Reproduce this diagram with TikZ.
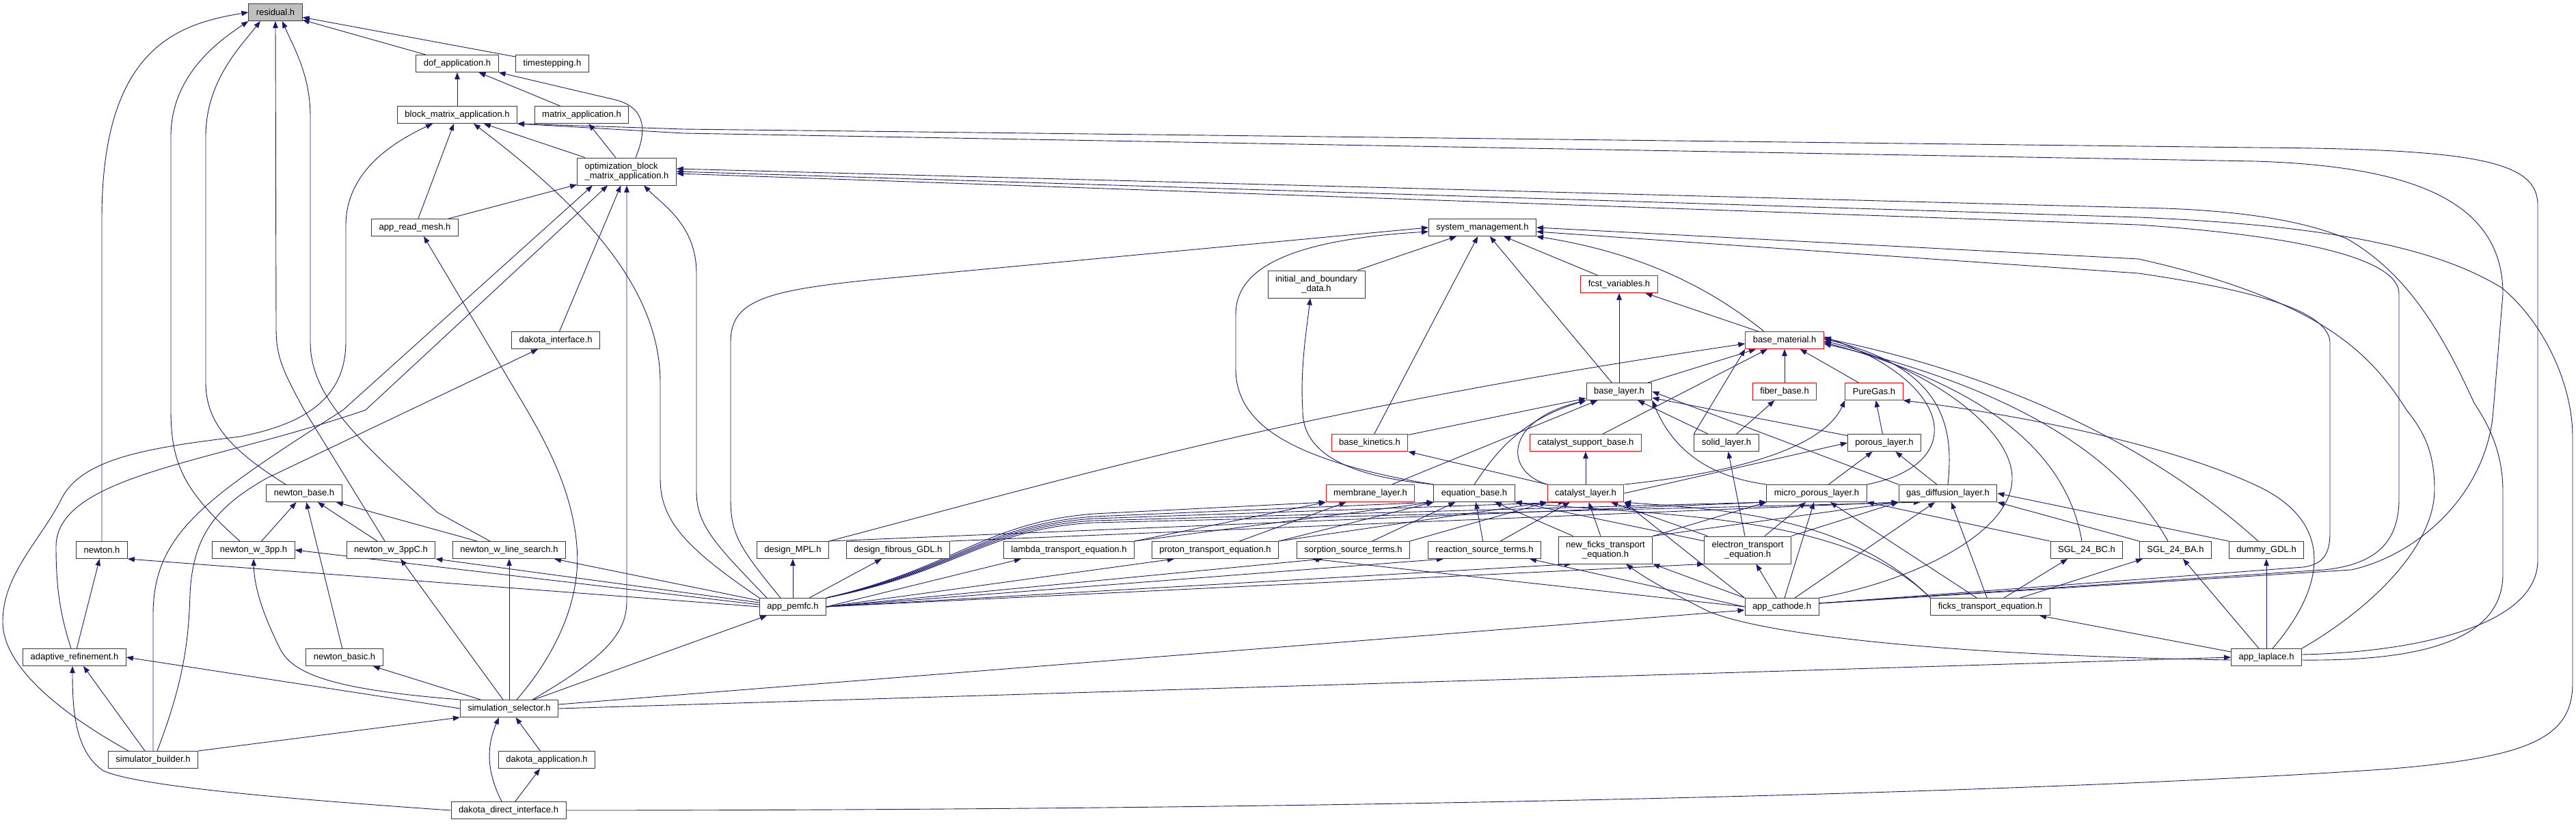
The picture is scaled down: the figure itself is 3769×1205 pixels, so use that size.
\documentclass[tikz,border=0pt]{standalone}
\usepackage{fontspec}
\setmainfont{Liberation Sans}
\usetikzlibrary{arrows.meta}
\definecolor{edgeblue}{HTML}{191970}
\definecolor{boxgray}{HTML}{3A3A3A}
\definecolor{curgray}{HTML}{BFBFBF}
\pgfdeclarelayer{bg}
\pgfsetlayers{bg,main}
\tikzset{
  file/.style={draw=boxgray, fill=white, line width=1pt, inner xsep=11pt, inner ysep=0pt,
    minimum height=25pt, font=\fontsize{13}{14}\selectfont},
  redfile/.style={file, draw=red},
  curfile/.style={file, fill=curgray},
  twoline/.style={minimum height=40pt, align=center},
  inc/.style={draw=edgeblue, line width=0.9pt, -{Triangle[length=10pt,width=7.5pt]}},
}

\begin{document}
\begin{tikzpicture}[x=1pt,y=-1pt]
    \useasboundingbox (0,0) rectangle (3769,1205);

    % files, row by row
    \node[curfile] (residual) at (403,18) {residual.h};
    \node[file] (dofapp) at (669,93) {dof\_application.h};
    \node[file] (timestep) at (808,93) {timestepping.h};
    \node[file] (blockmat) at (669,168) {block\_matrix\_application.h};
    \node[file] (matrixapp) at (851,168) {matrix\_application.h};
    \node[file, twoline, align=left] (optblock) at (917,251) {optimization\_block\\\_matrix\_application.h};
    \node[file] (appreadmesh) at (607,333) {app\_read\_mesh.h};
    \node[file] (sysmgmt) at (2169,333) {system\_management.h};
    \node[file, twoline] (initbd) at (1926,416) {initial\_and\_boundary\\\_data.h};
    \node[redfile] (fcstvar) at (2369,416) {fcst\_variables.h};
    \node[file] (dakotaint) at (813,498) {dakota\_interface.h};
    \node[redfile] (basemat) at (2611,498) {base\_material.h};
    \node[file] (baselayer) at (2369,573) {base\_layer.h};
    \node[redfile] (fiberbase) at (2611,573) {fiber\_base.h};
    \node[redfile] (puregas) at (2742,573) {PureGas.h};
    \node[redfile] (basekin) at (2004,648) {base\_kinetics.h};
    \node[redfile] (catsupp) at (2320,648) {catalyst\_support\_base.h};
    \node[file] (solidlayer) at (2526,648) {solid\_layer.h};
    \node[file] (porouslayer) at (2757,648) {porous\_layer.h};
    \node[file] (newtonbase) at (445,722) {newton\_base.h};
    \node[redfile] (membrane) at (2005,722) {membrane\_layer.h};
    \node[file] (eqbase) at (2157,722) {equation\_base.h};
    \node[redfile] (catlayer) at (2320,722) {catalyst\_layer.h};
    \node[file] (microporous) at (2658,722) {micro\_porous\_layer.h};
    \node[file] (gdl) at (2850,722) {gas\_diffusion\_layer.h};
    \node[file] (newton) at (149,805) {newton.h};
    \node[file] (nw3pp) at (371,805) {newton\_w\_3pp.h};
    \node[file] (nw3ppC) at (572,805) {newton\_w\_3ppC.h};
    \node[file] (nwls) at (745,805) {newton\_w\_line\_search.h};
    \node[file] (designmpl) at (1160,805) {design\_MPL.h};
    \node[file] (designgdl) at (1314,805) {design\_fibrous\_GDL.h};
    \node[file] (lambda) at (1564,805) {lambda\_transport\_equation.h};
    \node[file] (proton) at (1778,805) {proton\_transport\_equation.h};
    \node[file] (sorption) at (1980,805) {sorption\_source\_terms.h};
    \node[file] (reaction) at (2172,805) {reaction\_source\_terms.h};
    \node[file, twoline] (newficks) at (2349,805) {new\_ficks\_transport\\\_equation.h};
    \node[file, twoline] (electron) at (2557,805) {electron\_transport\\\_equation.h};
    \node[file] (sgl24bc) at (3053,805) {SGL\_24\_BC.h};
    \node[file] (sgl24ba) at (3183,805) {SGL\_24\_BA.h};
    \node[file] (dummy) at (3316,805) {dummy\_GDL.h};
    \node[file] (apppemfc) at (1160,888) {app\_pemfc.h};
    \node[file] (appcathode) at (2607,888) {app\_cathode.h};
    \node[file] (ficks) at (2912,888) {ficks\_transport\_equation.h};
    \node[file] (adaptive) at (109,962) {adaptive\_refinement.h};
    \node[file] (newtonbasic) at (504,962) {newton\_basic.h};
    \node[file] (applaplace) at (3316,962) {app\_laplace.h};
    \node[file] (simsel) at (745,1037) {simulation\_selector.h};
    \node[file] (dakotaapp) at (800,1112) {dakota\_application.h};
    \node[file] (simbuilder) at (224,1112) {simulator\_builder.h};
    \node[file] (dakotadirect) at (744,1186) {dakota\_direct\_interface.h};

    \begin{pgfonlayer}{bg}
    % residual.h
    \draw[inc] (dofapp) -- (residual);
    \draw[inc] (timestep) -- (residual);
    \draw[inc] (newton.north) -- (149,320) .. controls (149,70) and (260,35) .. (residual.west);
    \draw[inc] ([xshift=-20pt]nw3pp.north) .. controls (270,720) and (250,680) .. (250,600) -- (250,200) .. controls (250,110) and (320,60) .. (residual.south west);
    \draw[inc] ([xshift=-27pt]newtonbase.north) .. controls (340,660) and (301,620) .. (301,560) -- (301,200) .. controls (301,120) and (350,70) .. ([xshift=-22pt]residual.south);
    \draw[inc] ([xshift=-9pt]nw3ppC.north) -- (445,600) .. controls (412,540) and (404,520) .. (404,480) -- (residual.south);
    \draw[inc] ([xshift=-28pt]nwls.north) -- (640,750) .. controls (520,640) and (454,580) .. (454,500) -- (454,170) .. controls (454,110) and (430,70) .. ([xshift=10pt]residual.south);

    % application headers
    \draw[inc] (blockmat) -- (dofapp);
    \draw[inc] (matrixapp) -- (dofapp);
    \draw[inc] ([xshift=13pt]optblock.north) .. controls (945,195) and (948,158) .. (900,146) -- (dofapp.south east);
    \draw[inc] (optblock) -- (blockmat);
    \draw[inc] (optblock) -- (matrixapp);
    \draw[inc] (appreadmesh) -- (blockmat);
    \draw[inc] (appreadmesh) -- (optblock);
    \draw[inc] ([xshift=-36pt]simbuilder.north) .. controls (100,1050) and (4,980) .. (4,910) .. controls (4,840) and (60,790) .. (90,730) .. controls (120,670) and (220,655) .. (351,639) .. controls (450,620) and (506,580) .. (506,500) -- (506,330) .. controls (506,260) and (560,215) .. ([xshift=-36pt]blockmat.south);
    \draw[inc] (simbuilder.north) -- (224,900) .. controls (224,780) and (300,730) .. (502,600) -- ([xshift=-50pt]optblock.south);
    \draw[inc] ([xshift=-5pt]adaptive.north) .. controls (88,900) and (82,860) .. (82,800) .. controls (82,720) and (220,690) .. (367,650) .. controls (450,628) and (500,612) .. (535,600) -- ([xshift=-28pt]optblock.south);
    \draw[inc] ([xshift=6pt]simbuilder.north) .. controls (268,1000) and (276,940) .. (278,870) .. controls (282,780) and (320,740) .. (390,700) -- ([xshift=-26pt]dakotaint.south);
    \draw[inc] (dakotaint) -- (optblock);
    \draw[inc] ([xshift=34pt]simsel.north) .. controls (880,965) and (917,930) .. (917,880) -- (optblock.south);
    \draw[inc] (apppemfc.north west) .. controls (1000,800) and (966,760) .. (966,700) -- (966,560) .. controls (966,420) and (850,300) .. ([xshift=24pt]blockmat.south);
    \draw[inc] ([xshift=-38pt]apppemfc.north) .. controls (1050,800) and (1019,770) .. (1019,720) -- (1019,400) .. controls (1019,330) and (970,300) .. ([xshift=25pt]optblock.south);
    \draw[inc] ([xshift=-18pt]apppemfc.north) .. controls (1080,800) and (1069,780) .. (1069,730) -- (1069,500) .. controls (1069,440) and (1120,425) .. (1280,409) -- (sysmgmt.west);
    \draw[inc] ([xshift=11pt]simsel.north) .. controls (820,950) and (850,870) .. (844,800) .. controls (838,720) and (800,650) .. (771,600) -- ([xshift=13pt]appreadmesh.south);

    % system_management.h
    \draw[inc] (initbd) -- (sysmgmt);
    \draw[inc] (basekin) -- (sysmgmt);
    \draw[inc] (baselayer) -- (sysmgmt);
    \draw[inc] (fcstvar) -- (sysmgmt);
    \draw[inc] ([xshift=-30pt]basemat.north) .. controls (2500,420) and (2400,370) .. (sysmgmt.south east);
    \draw[inc] (eqbase.north west) .. controls (2040,700) and (1980,686) .. (1936,670) .. controls (1870,646) and (1808,610) .. (1808,540) -- (1808,460) .. controls (1808,400) and (1870,352) .. ([yshift=-6pt]sysmgmt.west);
    \draw[inc] (eqbase.north west) .. controls (2000,700) and (1905,675) .. (1906,600) .. controls (1902,540) and (1912,480) .. ([xshift=-9pt]initbd.south);

    % long ways round on the right
    \draw[inc] ([yshift=4pt]applaplace.east) .. controls (3520,955) and (3713,920) .. (3713,820) -- (3713,300) .. controls (3713,235) and (3620,218) .. (3300,216) -- (1000,189) -- (blockmat.south east);
    \draw[inc] ([yshift=5pt]appcathode.east) -- (3440,834) .. controls (3540,812) and (3640,720) .. (3648,600) -- (3662,430) .. controls (3662,290) and (3520,243) .. (3300,236) -- (1000,195) -- (blockmat.south east);
    \draw[inc] ([yshift=-4pt]applaplace.east) .. controls (3560,968) and (3662,930) .. (3662,840) -- (3662,720) .. controls (3662,660) and (3640,620) .. (3620,590) .. controls (3570,480) and (3520,400) .. (3435,350) .. controls (3360,318) and (3250,306) .. (3129,304) -- ([yshift=4pt]optblock.east);
    \draw[inc] (dakotadirect.east) .. controls (2000,1186) and (3000,1160) .. (3500,1125) .. controls (3700,1108) and (3764,1080) .. (3764,1000) -- (3764,640) .. controls (3764,560) and (3720,470) .. (3660,421) .. controls (3560,360) and (3400,330) .. (3129,318) -- (optblock.east);
    \draw[inc] ([yshift=5pt]appcathode.east) -- (3400,834) .. controls (3480,826) and (3510,790) .. (3510,730) -- (3510,430) .. controls (3510,385) and (3400,348) .. (3129,329) -- ([yshift=-3pt]optblock.east);
    \draw[inc] (applaplace.north east) .. controls (3470,890) and (3562,800) .. (3562,716) .. controls (3562,660) and (3545,630) .. (3521,600) .. controls (3470,520) and (3400,440) .. (3129,379) -- (sysmgmt.east);
    \draw[inc] ([yshift=5pt]appcathode.east) -- (3370,830) .. controls (3398,826) and (3409,812) .. (3409,780) -- (3409,500) .. controls (3405,455) and (3300,425) .. (3129,400) -- ([yshift=-6pt]sysmgmt.east);

    % materials and layers
    \draw[inc] (baselayer) -- (fcstvar);
    \draw[inc] (basemat) -- (fcstvar);
    \draw[inc] (baselayer) -- (basemat);
    \draw[inc] (fiberbase) -- (basemat);
    \draw[inc] (puregas) -- (basemat);
    \draw[inc] (catsupp) -- (basemat);
    \draw[inc] (solidlayer.north west) -- (basemat.south west);
    \draw[inc] (designmpl.north east) .. controls (1600,690) and (1900,600) .. ([yshift=-5pt]basemat.west);
    \draw[inc] (microporous.north east) .. controls (2880,680) and (2860,560) .. ([yshift=5pt]basemat.east);
    \draw[inc] (gdl.north) .. controls (2858,630) and (2850,540) .. ([yshift=2pt]basemat.east);
    \draw[inc] (appcathode.north east) .. controls (2800,850) and (2944,780) .. (2944,700) .. controls (2944,620) and (2800,530) .. ([yshift=-1pt]basemat.east);
    \draw[inc] ([xshift=-7pt]sgl24bc.north) .. controls (3030,700) and (2960,580) .. ([yshift=-3pt]basemat.east);
    \draw[inc] ([xshift=-11pt]sgl24ba.north) .. controls (3120,700) and (3000,580) .. ([yshift=-5pt]basemat.east);
    \draw[inc] ([xshift=-12pt]dummy.north) .. controls (3180,680) and (2980,560) .. ([yshift=3pt]basemat.east);
    \draw[inc] (solidlayer) -- (fiberbase);
    \draw[inc] (solidlayer) -- (baselayer);
    \draw[inc] (porouslayer) -- (baselayer);
    \draw[inc] (porouslayer) -- (puregas);
    \draw[inc] (microporous) -- (porouslayer);
    \draw[inc] (gdl) -- (porouslayer);
    \draw[inc] (microporous.north west) .. controls (2480,695) and (2440,640) .. (baselayer.south east);
    \draw[inc] (gdl.north west) -- (baselayer.east);
    \draw[inc] (catlayer) -- (catsupp);
    \draw[inc] (catlayer.north west) -- (basekin.south east);
    \draw[inc] (catlayer.north west) .. controls (2200,690) and (2200,615) .. (baselayer.south west);
    \draw[inc] (catlayer.north east) .. controls (2560,690) and (2670,650) .. (puregas.south west);
    \draw[inc] (catlayer.east) -- (porouslayer.west);
    \draw[inc] (membrane) -- (baselayer);
    \draw[inc] (basekin) -- (baselayer);
    \draw[inc] (eqbase.north) .. controls (2190,660) and (2225,615) .. (baselayer.south west);

    % equations
    \draw[inc] (lambda.north east) -- (membrane.south west);
    \draw[inc] (lambda.north east) -- (eqbase.south west);
    \draw[inc] (proton) -- (membrane);
    \draw[inc] (proton.north east) -- (eqbase.south west);
    \draw[inc] (proton.north east) -- (catlayer.south west);
    \draw[inc] (sorption) -- (eqbase);
    \draw[inc] (sorption.north east) -- (catlayer.south west);
    \draw[inc] (reaction) -- (eqbase);
    \draw[inc] (reaction) -- (catlayer);
    \draw[inc] (newficks) -- (eqbase);
    \draw[inc] (newficks) -- (catlayer);
    \draw[inc] (newficks.north east) -- (microporous.south west);
    \draw[inc] (newficks.north east) -- (gdl.south west);
    \draw[inc] (electron) -- (eqbase);
    \draw[inc] (electron) -- (catlayer);
    \draw[inc] (electron) -- (solidlayer);
    \draw[inc] (electron) -- (microporous);
    \draw[inc] (electron.north east) -- (gdl.south west);
    \draw[inc] (ficks.north west) .. controls (2700,750) and (2420,755) .. (eqbase.south east);
    \draw[inc] (ficks.north west) .. controls (2700,750) and (2500,745) .. (catlayer.south east);
    \draw[inc] (ficks) -- (microporous);
    \draw[inc] (ficks) -- (gdl);
    \draw[inc] ([xshift=20pt]ficks.north) -- ([xshift=-28pt]sgl24bc.south);
    \draw[inc] ([xshift=44pt]ficks.north) -- ([xshift=-48pt]sgl24ba.south);
    \draw[inc] (designmpl.north east) -- (microporous.south west);
    \draw[inc] (designgdl.north east) -- (gdl.south west);
    \draw[inc] (sgl24bc.north west) -- (microporous.south east);
    \draw[inc] (sgl24ba.north west) -- (gdl.south east);
    \draw[inc] (dummy.north west) -- (gdl.east);

    % app_pemfc.h
    \draw[inc] (apppemfc.west) -- (newton.south east);
    \draw[inc] ([yshift=3pt]apppemfc.west) -- (nw3pp.east);
    \draw[inc] ([yshift=6pt]apppemfc.west) -- (nw3ppC.south east);
    \draw[inc] ([yshift=9pt]apppemfc.west) -- ([xshift=66pt]nwls.south);
    \draw[inc] (apppemfc) -- (designmpl);
    \draw[inc] (apppemfc) -- (designgdl);
    \draw[inc] (apppemfc.east) -- ([xshift=-70pt]lambda.south);
    \draw[inc] (apppemfc.east) -- ([xshift=-60pt]proton.south);
    \draw[inc] (apppemfc.east) -- ([xshift=-45pt]sorption.south);
    \draw[inc] (apppemfc.east) -- ([xshift=-60pt]reaction.south);
    \draw[inc] (apppemfc.east) -- ([xshift=-50pt]newficks.south);
    \draw[inc] (apppemfc.east) -- (electron.south west);
    \draw[inc] (apppemfc.north east) .. controls (1400,830) and (1440,765) .. (1600,752) -- (membrane.south west);
    \draw[inc] (apppemfc.north east) .. controls (1400,832) and (1440,768) .. (1600,756) -- (eqbase.south west);
    \draw[inc] (apppemfc.north east) .. controls (1400,834) and (1440,770) .. (1600,759) -- ([xshift=-30pt]catlayer.south);
    \draw[inc] (apppemfc.north east) .. controls (1400,836) and (1440,772) .. (1600,762) -- (microporous.south west);
    \draw[inc] (apppemfc.north east) .. controls (1400,838) and (1440,774) .. (1600,765) -- ([xshift=-40pt]gdl.south);

    % app_cathode.h and app_laplace.h
    \draw[inc] (appcathode) -- (electron);
    \draw[inc] (appcathode) -- (microporous);
    \draw[inc] (appcathode) -- (gdl);
    \draw[inc] (appcathode.north west) -- (catlayer.south east);
    \draw[inc] (appcathode.north west) -- (newficks.south east);
    \draw[inc] (appcathode.west) -- ([xshift=66pt]reaction.south);
    \draw[inc] (appcathode.west) -- ([xshift=-60pt]sorption.south);
    \draw[inc] (applaplace) -- (sgl24ba);
    \draw[inc] (applaplace) -- (dummy);
    \draw[inc] ([yshift=8pt]applaplace.west) -- ([xshift=72pt]ficks.south);
    \draw[inc] ([yshift=-4pt]applaplace.west) .. controls (2900,960) and (2600,935) .. (2500,895) .. controls (2450,870) and (2410,848) .. ([xshift=30pt]newficks.south);
    \draw[inc] ([xshift=9pt]applaplace.north) .. controls (3410,850) and (3410,760) .. (3300,710) .. controls (3150,640) and (2900,600) .. (puregas.south east);

    % simulation_selector.h and the drivers
    \draw[inc] (simsel.north west) .. controls (500,1010) and (430,990) .. (410,950) .. controls (385,900) and (372,860) .. (nw3pp.south);
    \draw[inc] ([xshift=-9pt]simsel.north) -- ([xshift=14pt]nw3ppC.south);
    \draw[inc] (simsel) -- (nwls);
    \draw[inc] (simsel) -- (newtonbasic);
    \draw[inc] (simsel.west) -- (adaptive.east);
    \draw[inc] ([xshift=36pt]simsel.north) -- ([xshift=-38pt]apppemfc.south);
    \draw[inc] ([yshift=6pt]simsel.east) -- ([yshift=-5pt]appcathode.west);
    \draw[inc] (simsel.east) -- (applaplace.west);
    \draw[inc] (simbuilder.north east) -- (simsel.south west);
    \draw[inc] ([xshift=-12pt]simbuilder.north) -- ([xshift=13pt]adaptive.south);
    \draw[inc] (dakotaapp) -- (simsel);
    \draw[inc] ([xshift=-10pt]dakotadirect.north) to[bend left=25] ([xshift=-15pt]simsel.south);
    \draw[inc] (dakotadirect) -- (dakotaapp);
    \draw[inc] (dakotadirect.west) .. controls (400,1168) and (200,1150) .. (151,1128) .. controls (110,1100) and (106,1040) .. ([xshift=-3pt]adaptive.south);
    \draw[inc] (adaptive) -- (newton);
    \draw[inc] (newtonbasic) -- (newtonbase);
    \draw[inc] (nw3pp) -- (newtonbase);
    \draw[inc] (nw3ppC) -- (newtonbase);
    \draw[inc] (nwls) -- (newtonbase);
    \end{pgfonlayer}
\end{tikzpicture}
\end{document}
